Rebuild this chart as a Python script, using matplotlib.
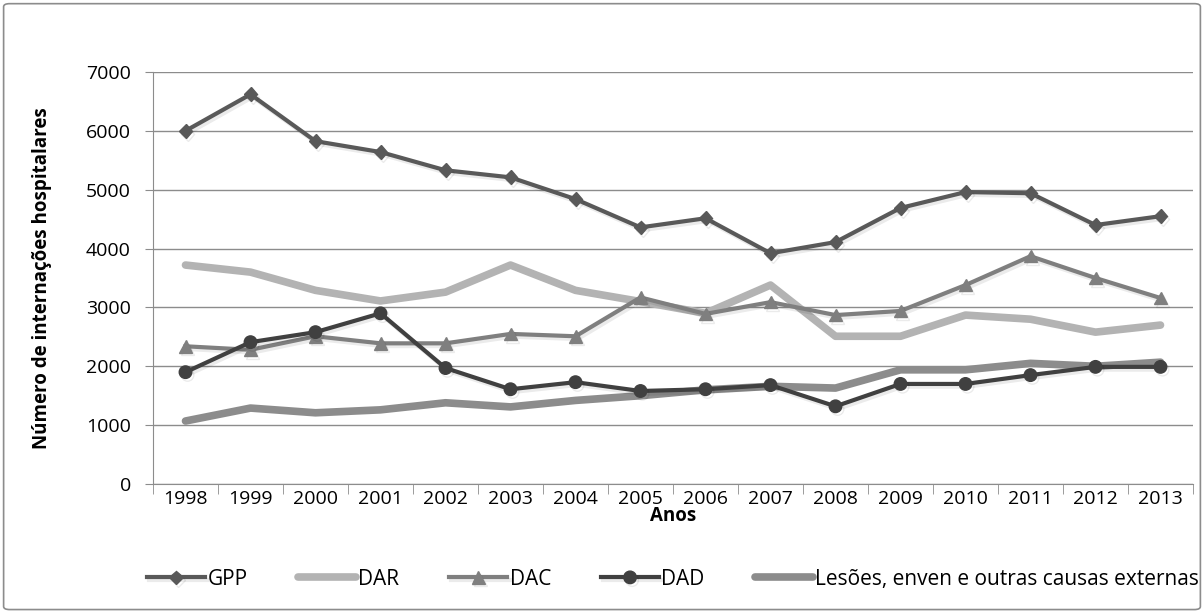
import matplotlib.pyplot as plt
from matplotlib.patches import FancyBboxPatch
import matplotlib.patheffects as pe

anos = ['1998', '1999', '2000', '2001', '2002', '2003', '2004', '2005',
        '2006', '2007', '2008', '2009', '2010', '2011', '2012', '2013']
gpp = [6000, 6620, 5825, 5640, 5330, 5210, 4840, 4360, 4515, 3920, 4110, 4690, 4960, 4940, 4400, 4550]
dar = [3720, 3600, 3290, 3110, 3260, 3720, 3290, 3100, 2900, 3380, 2510, 2510, 2870, 2800, 2580, 2700]
dac = [2340, 2280, 2510, 2390, 2390, 2550, 2510, 3170, 2890, 3090, 2870, 2940, 3380, 3870, 3500, 3160]
dad = [1900, 2410, 2580, 2900, 1970, 1610, 1730, 1580, 1610, 1680, 1320, 1700, 1700, 1850, 1990, 1990]
lesoes = [1070, 1290, 1210, 1260, 1380, 1310, 1420, 1500, 1600, 1660, 1630, 1940, 1940, 2050, 2000, 2070]

plt.rcParams['font.family'] = ['Open Sans', 'DejaVu Sans']

fig = plt.figure(figsize=(12.04, 6.12), dpi=100)
# moldura cinza em volta de tudo
fig.patches.append(FancyBboxPatch((0.003, 0.004), 0.994, 0.99, boxstyle='round,pad=0,rounding_size=0.005',
                                  transform=fig.transFigure, fill=False, edgecolor='#8c8c8c', linewidth=1.2))
ax = fig.add_axes([153 / 1204, 1 - 484 / 612, 1040 / 1204, 412 / 612])

x = list(range(len(anos)))
shadow = [pe.SimpleLineShadow(offset=(1.5, -2), shadow_color='#000000', alpha=0.08), pe.Normal()]

ax.plot(x, gpp, color='#595959', lw=3, marker='D', ms=7, label='GPP', path_effects=shadow, zorder=5)
ax.plot(x, dar, color='#b3b3b3', lw=5.5, label='DAR', solid_capstyle='round', zorder=3)
ax.plot(x, dac, color='#7f7f7f', lw=3, marker='^', ms=9, label='DAC', path_effects=shadow, zorder=4)
ax.plot(x, dad, color='#404040', lw=3, marker='o', ms=9, label='DAD', path_effects=shadow, zorder=4)
ax.plot(x, lesoes, color='#8c8c8c', lw=5.5, label='Lesões, enven e outras causas externas',
        solid_capstyle='round', zorder=3)

ax.set_xlim(-0.5, 15.5)
ax.set_ylim(0, 7000)
ax.set_yticks(range(0, 7001, 1000))
ax.set_xticks(x)
ax.set_xticklabels(anos)
ax.set_xticks([i - 0.5 for i in range(len(anos) + 1)], minor=True)
ax.tick_params(axis='x', which='major', length=0, labelsize=14, pad=4)
ax.tick_params(axis='x', which='minor', length=7, color='#8c8c8c')
ax.tick_params(axis='y', length=6, color='#8c8c8c', labelsize=14, pad=10)
ax.grid(axis='y', color='#8c8c8c', lw=1)
ax.set_axisbelow(True)
for s in ['top', 'right']:
    ax.spines[s].set_visible(False)
for s in ['left', 'bottom']:
    ax.spines[s].set_color('#8c8c8c')

ax.set_xlabel('Anos', fontsize=13.5, fontweight='bold', labelpad=-1)
ax.set_ylabel('Número de internações hospitalares', fontsize=13.5, fontweight='bold', labelpad=24)

ax.legend(loc='upper center', bbox_to_anchor=(0.5, -0.16), ncol=5, frameon=False, fontsize=15,
          handlelength=2.8, columnspacing=2.4, handletextpad=0.1)

fig.savefig('out.png', dpi=100)
